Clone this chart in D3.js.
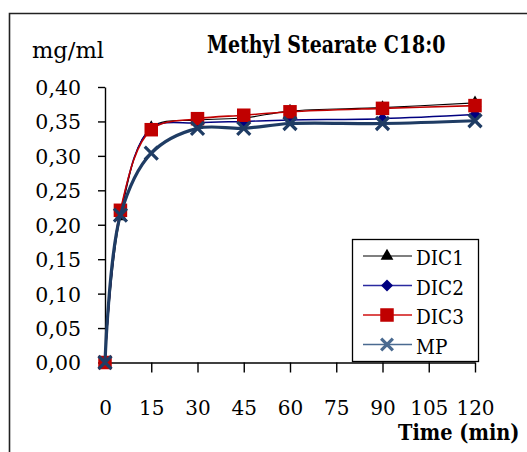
<!DOCTYPE html>
<html>
<head>
<meta charset="utf-8">
<script src="https://cdn.jsdelivr.net/npm/d3@7"></script>
<style>
  html, body { margin: 0; padding: 0; background: #fff; }
  svg { display: block; }
  text { font-family: "DejaVu Serif", serif; fill: #000; }
</style>
</head>
<body>
<svg id="chart" width="527" height="452"></svg>
<script>
// ---- data ----
const times = [0, 5, 15, 30, 45, 60, 90, 120];
const dic1 = [0, 0.212, 0.341, 0.352, 0.355, 0.365, 0.370, 0.377];
const dic2 = [0, 0.218, 0.340, 0.348, 0.350, 0.352, 0.354, 0.360];
const dic3 = [0, 0.221, 0.338, 0.354, 0.359, 0.364, 0.369, 0.373];
const mp   = [0, 0.214, 0.304, 0.340, 0.340, 0.347, 0.347, 0.351];
const seriesNames = ["DIC1", "DIC2", "DIC3", "MP"];
const xTicks = [0, 15, 30, 45, 60, 75, 90, 105, 120];
const yTicks = [0, 0.05, 0.10, 0.15, 0.20, 0.25, 0.30, 0.35, 0.40];
const title = "Methyl Stearate C18:0";
const yUnit = "mg/ml";
const xTitle = "Time (min)";

const svg = d3.select("#chart");

// outer frame
svg.append("path").attr("d", "M9.5,452 V13.5 H527")
  .attr("fill", "none").attr("stroke", "#222").attr("stroke-width", 1.6);

const x = d3.scaleLinear().domain([0, 120]).range([105, 475]);
const y = d3.scaleLinear().domain([0, 0.4]).range([362.5, 87]);

const fmt = v => d3.format(".2f")(v).replace(".", ",");

// y axis
const gy = svg.append("g").attr("transform", "translate(105,0)")
  .call(d3.axisLeft(y).tickValues(yTicks).tickSize(7).tickSizeOuter(0).tickPadding(17).tickFormat(fmt));
gy.select(".domain").attr("stroke", "#000").attr("stroke-width", 1.4);
gy.selectAll(".tick line").attr("stroke", "#000").attr("stroke-width", 1.4);
gy.selectAll(".tick text").style("font-size", "20.5px").style("font-family", "DejaVu Serif")
  .attr("dy", "0.36em");

// x axis
const gx = svg.append("g").attr("transform", "translate(0,362.5)")
  .call(d3.axisBottom(x).tickValues(xTicks).tickSize(10).tickSizeOuter(0).tickFormat(d3.format("d")));
gx.select(".domain").attr("stroke", "#000").attr("stroke-width", 1.4);
gx.selectAll(".tick line").attr("stroke", "#000").attr("stroke-width", 1.4)
  .attr("opacity", d => d === 0 ? 0 : 1);
gx.selectAll(".tick text").style("font-size", "20px").style("font-family", "DejaVu Serif")
  .attr("y", 52).attr("dy", 0);

// series
const series = [
  { name: "DIC1", values: dic1, color: "#000000", width: 1.1, marker: "triangle", mcolor: "#000" },
  { name: "DIC2", values: dic2, color: "#000080", width: 1.4, marker: "diamond", mcolor: "#000080" },
  { name: "DIC3", values: dic3, color: "#C00000", width: 1.6, marker: "square", mcolor: "#C00000" },
  { name: "MP",   values: mp,   color: "#1F3C64", width: 3.2, marker: "cross", mcolor: "#1F3C64" }
];

const line = d3.line().x(d => x(d[0])).y(d => y(d[1])).curve(d3.curveCatmullRom.alpha(0.5));

function drawMarker(g, type, cx, cy, color, scale) {
  scale = scale || 1;
  if (type === "triangle") {
    g.append("path").attr("d", d3.symbol(d3.symbolTriangle, 70 * scale)())
      .attr("transform", `translate(${cx},${cy})`).attr("fill", color);
  } else if (type === "diamond") {
    const s = 6 * scale;
    g.append("path").attr("d", `M0,${-s}L${s},0L0,${s}L${-s},0Z`)
      .attr("transform", `translate(${cx},${cy})`).attr("fill", color);
  } else if (type === "square") {
    const s = 13.5 * scale;
    g.append("rect").attr("x", cx - s / 2).attr("y", cy - s / 2).attr("width", s).attr("height", s)
      .attr("fill", color);
  } else if (type === "cross") {
    const s = 6.5 * scale;
    g.append("path").attr("d", `M${-s},${-s}L${s},${s}M${-s},${s}L${s},${-s}`)
      .attr("transform", `translate(${cx},${cy})`).attr("stroke", color)
      .attr("stroke-width", 3.2 * Math.min(1, scale + 0.2)).attr("fill", "none");
  }
}

series.forEach(s => {
  const pts = times.map((t, i) => [t, s.values[i]]);
  const g = svg.append("g");
  g.append("path").attr("d", line(pts)).attr("fill", "none")
    .attr("stroke", s.color).attr("stroke-width", s.width).attr("stroke-linejoin", "round");
  pts.forEach(p => drawMarker(g, s.marker, x(p[0]), y(p[1]), s.mcolor));
});

// titles
svg.append("text").attr("transform", "translate(207,53) scale(0.79,1)").text(title)
  .style("font-size", "24px").style("font-weight", "bold");
svg.append("text").attr("transform", "translate(32,58) scale(0.98,1)").text(yUnit)
  .style("font-size", "23px");
svg.append("text").attr("transform", "translate(398,440) scale(0.88,1)").text(xTitle)
  .style("font-size", "22px").style("font-weight", "bold");

// legend
const lg = svg.append("g");
lg.append("rect").attr("x", 352.5).attr("y", 239.5).attr("width", 126).attr("height", 122)
  .attr("fill", "#fff").attr("stroke", "#000").attr("stroke-width", 1.3);
const legendY = [256, 285.5, 315, 344.5];
const legendStyle = [
  { color: "#000000", width: 1.2 },
  { color: "#2A2AA0", width: 1.4 },
  { color: "#D01010", width: 1.4 },
  { color: "#4A6A90", width: 1.6 }
];
series.forEach((s, i) => {
  const ly = legendY[i];
  lg.append("line").attr("x1", 363).attr("x2", 412).attr("y1", ly).attr("y2", ly)
    .attr("stroke", legendStyle[i].color).attr("stroke-width", legendStyle[i].width);
  drawMarker(lg, s.marker, 387, ly, s.marker === "cross" ? "#4A6A90" : s.mcolor, s.marker === "cross" ? 0.9 : 1);
  lg.append("text").attr("transform", `translate(416,${ly + 9}) scale(0.88,1)`).text(seriesNames[i])
    .style("font-size", "21px");
});
</script>
</body>
</html>
